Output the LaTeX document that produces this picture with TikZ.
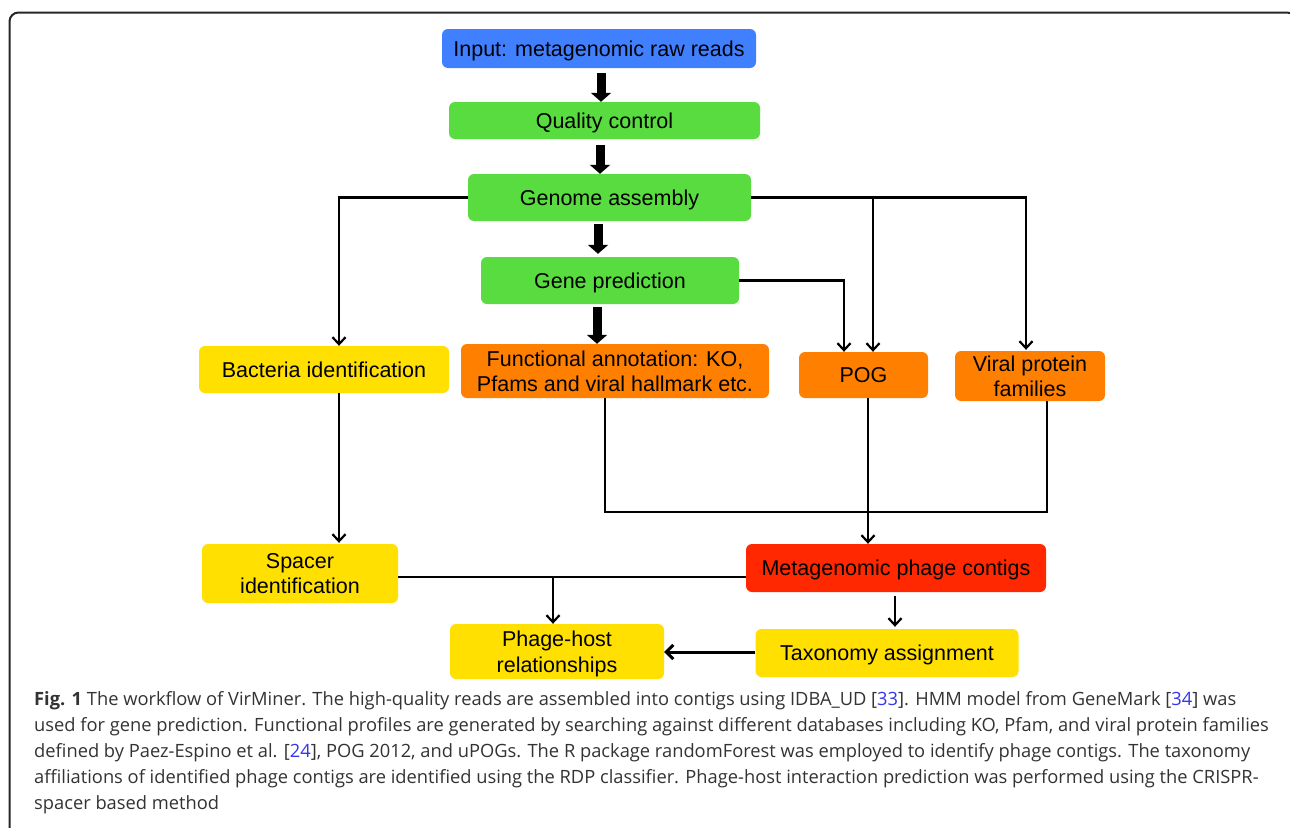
\documentclass[tikz,border=0pt]{standalone}
\usepackage{fontspec}
\setmainfont{Liberation Sans}
\newfontfamily\capfont{Open Sans}
\usetikzlibrary{arrows.meta}
\definecolor{cblue}{HTML}{4080FF}
\definecolor{cgreen}{HTML}{58DC40}
\definecolor{corange}{HTML}{FF8000}
\definecolor{cyellow}{HTML}{FFE000}
\definecolor{cred}{HTML}{FF2800}
\definecolor{ctext}{HTML}{333333}
\definecolor{clink}{HTML}{3535F0}
\tikzset{
  box/.style={rounded corners=6pt, inner sep=0pt, align=center, text=black,
    text depth=0pt, font=\fontsize{21.5}{25.5}\selectfont},
  bigarrow/.style={line width=9pt, -{Triangle[length=9pt,width=20pt]}},
  arr/.style={line width=2.2pt, -{Straight Barb[length=7pt,width=13pt,line width=2.2pt]}},
  bus/.style={line width=2.6pt},
  capline/.style={anchor=base west, inner sep=0pt, text=ctext,
    font=\capfont\fontsize{18.3}{24}\selectfont}
}
\begin{document}
\begin{tikzpicture}[x=1pt,y=-1pt]
\useasboundingbox (0,0) rectangle (1290,827);
\clip (0,0) rectangle (1290,827);
\fill[white] (0,0) rectangle (1290,827);
% frame
\draw[line width=2pt, black!85, rounded corners=9pt] (9.5,900) -- (9.5,12.5) -- (1296,12.5) -- (1296,900);

% nodes
\node[box, fill=cblue,   minimum width=314pt, minimum height=39pt] (inp) at (599,48.5) {Input: metagenomic raw reads};
\node[box, fill=cgreen,  minimum width=311pt, minimum height=37pt] (qc)  at (604.5,120.5) {Quality control};
\node[box, fill=cgreen,  minimum width=283pt, minimum height=47pt] (ga)  at (609.5,197.5) {Genome assembly};
\node[box, fill=cgreen,  minimum width=258pt, minimum height=47pt] (gp)  at (610,280.5) {Gene prediction};
\node[box, fill=corange, minimum width=308pt, minimum height=54pt] (fa)  at (615,371) {Functional annotation: KO,\\Pfams and viral hallmark etc.};
\node[box, fill=cyellow, minimum width=250pt, minimum height=47pt] (bi)  at (324,369.5) {Bacteria identification};
\node[box, fill=corange, minimum width=129pt, minimum height=46pt] (pog) at (863.5,375) {POG};
\node[box, fill=corange, minimum width=150pt, minimum height=50pt] (vpf) at (1030,376) {Viral protein\\families};
\node[box, fill=cyellow, minimum width=196pt, minimum height=59pt] (si)  at (300,573.5) {Spacer\\identification};
\node[box, fill=cred,    minimum width=300pt, minimum height=48pt] (mpc) at (896,568) {Metagenomic phage contigs};
\node[box, fill=cyellow, minimum width=214pt, minimum height=55pt] (ph)  at (557,651.5) {Phage-host\\relationships};
\node[box, fill=cyellow, minimum width=263pt, minimum height=48pt] (ta)  at (887,653) {Taxonomy assignment};

% thick main-line arrows
\draw[bigarrow] ([shift={(2,5)}]inp.south) -- ([shift={(-3.5,0)}]qc.north);
\draw[bigarrow] ([shift={(-4.5,6)}]qc.south) -- ([shift={(-9.5,0)}]ga.north);
\draw[bigarrow] ([shift={(-11.5,3)}]ga.south) -- ([shift={(-12,-3)}]gp.north);
\draw[bigarrow] ([shift={(-13,3)}]gp.south) -- ([shift={(-18,0)}]fa.north);

% branches from genome assembly
\coordinate (gaj) at (873,197.5);
\draw[arr] (ga.west) -| ([xshift=15]bi.north);
\draw[arr] (ga.east) -| ([shift={(-4,-1)}]vpf.north);
\draw[arr] (gaj) -- (gaj |- pog.north);
\draw[arr] (gp.east) -| ([xshift=-19.5]pog.north);

% bacteria -> spacer
\draw[arr] ([xshift=15]bi.south) -- ([shift={(39,-1)}]si.north);

% collecting bus into phage contigs
\coordinate (busL) at (605,512);
\coordinate (busR) at (1047,512);
\draw[bus] ([xshift=-10]fa.south) -- (busL) -- (busR) -- ([xshift=17]vpf.south);
\draw[arr] ([xshift=4.5]pog.south) -- ([xshift=-28]mpc.north);

% spacer / contigs to phage-host
\coordinate (spj) at (553,577);
\draw[bus] ([shift={(0,3.5)}]si.east) -- ([shift={(0,9)}]mpc.west);
\draw[arr] (spj) -- (spj |- ph.north);
\draw[arr] ([shift={(-1,4)}]mpc.south) -- ([shift={(8,-2)}]ta.north);
\draw[line width=3pt, -{Straight Barb[length=7pt,width=14pt,line width=3pt]}] ([shift={(0,-1)}]ta.west) -- ([shift={(0,0.5)}]ph.east);

% caption
\node[capline] (c1) at (34,705) {\textbf{Fig. 1} The workflow of VirMiner. The high-quality reads are assembled into contigs using IDBA\_UD [\textcolor{clink}{33}]. HMM model from GeneMark [\textcolor{clink}{34}] was};
\node[capline] (c2) at (34,731) {used for gene prediction. Functional profiles are generated by searching against different databases including KO, Pfam, and viral protein families};
\node[capline] (c3) at (34,757) {defined by Paez-Espino et al. [\textcolor{clink}{24}], POG 2012, and uPOGs. The R package randomForest was employed to identify phage contigs. The taxonomy};
\node[capline] (c4) at (34,783) {affiliations of identified phage contigs are identified using the RDP classifier. Phage-host interaction prediction was performed using the CRISPR-};
\node[capline] (c5) at (34,809) {spacer based method};
\end{tikzpicture}
\end{document}
